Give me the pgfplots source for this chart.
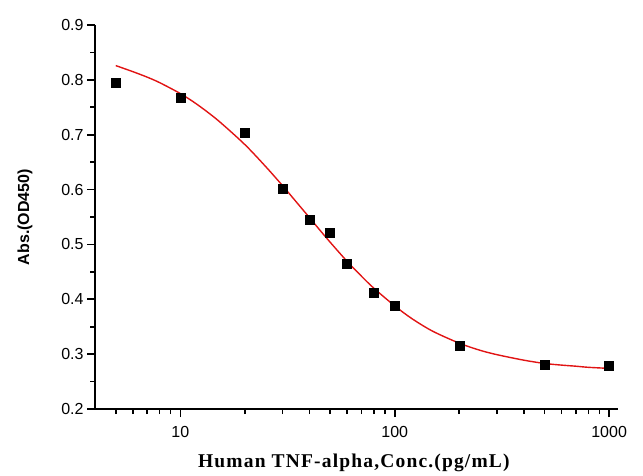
\documentclass[border=0pt]{standalone}
\usepackage{fontspec}
\setmainfont{Liberation Sans}
\newfontfamily\timesfont{Liberation Serif}[LetterSpace=6]
\usepackage{pgfplots}
\usepackage{pgfplotstable}
\pgfplotsset{compat=1.18}

% measured points
\pgfplotstableread{
x y
5 0.7955
10 0.7675
20 0.7044
30 0.6010
40 0.5446
50 0.5220
60 0.4640
80 0.4120
100 0.3880
200 0.3150
500 0.2810
1000 0.2784
}\points

% fitted curve
\pgfplotstableread{
x y
5 0.826
6 0.815
7 0.805
8 0.795
10 0.775
12 0.755
15 0.726
20 0.682
25 0.642
30 0.607
35 0.576
40 0.549
45 0.525
50 0.504
60 0.469
70 0.442
80 0.420
100 0.388
120 0.365
150 0.342
200 0.320
250 0.307
300 0.299
400 0.289
500 0.283
600 0.280
700 0.278
800 0.276
1000 0.274
}\fitcurve

\definecolor{fitred}{RGB}{225,20,20}

\begin{document}
\begin{tikzpicture}
\begin{axis}[
  scale only axis,
  width=523pt, height=384pt,
  xmode=log,
  xmin=4, xmax=1100,
  ymin=0.2, ymax=0.9,
  axis x line*=bottom,
  axis y line*=left,
  axis line style={-, black, line width=1.8pt},
  xtick={10,100,1000},
  xticklabels={10,100,1000},
  minor xtick={5,6,7,8,9,20,30,40,50,60,70,80,90,200,300,400,500,600,700,800,900},
  ytick={0.2,0.3,0.4,0.5,0.6,0.7,0.8,0.9},
  yticklabels={0.2,0.3,0.4,0.5,0.6,0.7,0.8,0.9},
  minor ytick={0.25,0.35,0.45,0.55,0.65,0.75,0.85},
  tick align=outside,
  major tick length=8pt,
  minor tick length=5pt,
  major tick style={black, line width=1.6pt},
  minor tick style={black, line width=1.6pt},
  tick label style={font=\fontsize{16}{18}\selectfont},
  xticklabel style={yshift=-6pt},
  xlabel={Human TNF-alpha,Conc.(pg/mL)},
  ylabel={Abs.(OD450)},
  xlabel style={font=\timesfont\bfseries\fontsize{19.5}{22}\selectfont,
    at={(axis description cs:0.495,-0.141)}, anchor=center},
  ylabel style={font=\bfseries\fontsize{16}{18}\selectfont,
    at={(axis description cs:-0.134,0.5)}, anchor=center},
]
\addplot[fitred, line width=1.4pt, smooth, no markers] table {\fitcurve};
\addplot[only marks, mark=square*, mark size=4.5pt, line width=0.5pt, black] table {\points};
\end{axis}
% frame of the reference image: 95pt left of the axis, 63pt below it
\path (-95pt,-63pt) rectangle (548pt,409pt);
\end{tikzpicture}
\end{document}
